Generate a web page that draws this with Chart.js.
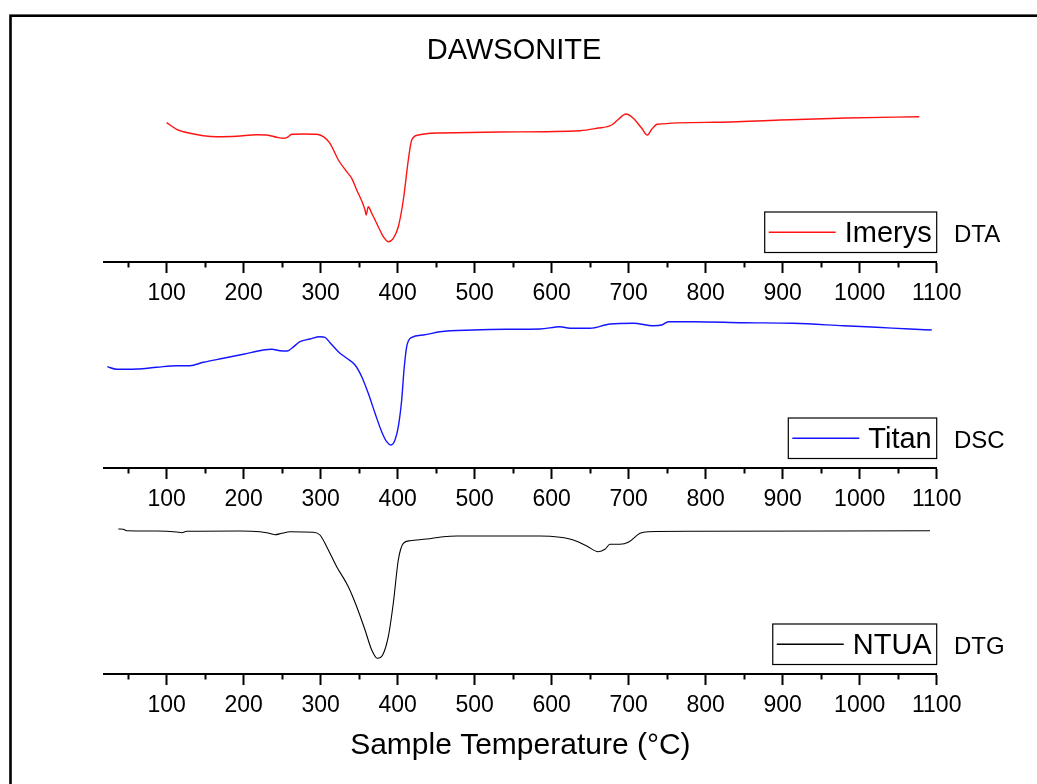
<!DOCTYPE html>
<html>
<head>
<meta charset="utf-8">
<script src="https://cdn.jsdelivr.net/npm/chart.js@4.4.1/dist/chart.umd.min.js"></script>
<style>
html,body{margin:0;padding:0;background:#fff;}
#wrap{position:relative;width:1037px;height:784px;overflow:hidden;background:#fff;}
#wrap canvas{position:absolute;left:0;top:0;}
</style>
</head>
<body>
<div id="wrap">
<canvas id="c1" width="1037" height="784"></canvas>
<canvas id="c2" width="1037" height="784"></canvas>
<canvas id="c3" width="1037" height="784"></canvas>
</div>
<script>
// ---- texts ----
const chartTitle = 'DAWSONITE';
const xAxisTitle = 'Sample Temperature (°C)';
const seriesNames = ['Imerys', 'Titan', 'NTUA'];
const methodNames = ['DTA', 'DSC', 'DTG'];

// ---- x axis ticks ----
const tickValues = [50,100,150,200,250,300,350,400,450,500,550,600,650,700,750,800,850,900,950,1000,1050,1100];
const tickLabels = ['','100','','200','','300','','400','','500','','600','','700','','800','','900','','1000','','1100'];

// ---- DTA (Imerys), arbitrary signal units ----
const dtaTemp = [100,113,130.3,147.6,165,191,217,230,243,251.5,256.6,262.4,277.4,294.8,303.4,312.1,323,333.8,340.3,346.8,357.6,359,361.8,366.3,374.8,381.3,387.8,394.3,400.8,407.3,413.8,418.2,426.8,442,455,532.6,636.8,658.5,678,686.6,696.6,706,716.9,724.2,729.9,737.2,809.9,896.6,983.1,1077.4];
const dtaSignal = [139.3,132.7,128.7,126.3,125.3,125.7,127.3,127,124.7,123.7,124.7,127.7,128,127.7,125.3,118.7,102,90.3,83.7,72,52,47,55.3,48.7,35.3,25.3,20.3,23.7,35.3,62,102,122,127,128.7,129,130,131.3,133.7,137,142.7,148,143.7,133.7,127,132.7,137.7,139.7,142,144,145.3];

// ---- DSC (Titan) ----
const dscTemp = [22.9,35.1,61.1,87,113,130.3,147.6,173.6,199.5,225.5,236.4,247.2,256.6,262.4,273.1,286.1,299.1,305.6,312.1,322.9,333.8,344.6,353.3,361.8,370.6,379.2,385.7,391.3,396.5,400.8,405.2,408.2,411.7,418.2,433.3,455,498.2,541.6,584.9,610.8,623.8,649.8,675.9,706,732,742.9,751.5,783.9,848.9,913.8,978.7,1022.1,1065.4,1093.6];
const dscSignal = [101.3,98.7,99,100.7,102.3,102.3,105.7,109.7,113.7,118,118.7,117.3,117,119.7,126.3,129,131.3,130.7,125.3,116.3,109.7,103,91.3,74.7,54.7,36.3,26.3,23,28,41.3,68,98,121.3,130.7,133,136.3,138,138.7,139,141.3,139.7,139.7,144,144.7,142.3,143,146.3,146.3,145.3,144.7,142.3,140.7,139,138];

// ---- DTG (NTUA) ----
const dtgTemp = [37.2,43.7,48.1,87,113,119.5,126,195.2,221.2,229.9,240.7,249.4,260.2,290.4,299.1,307.8,320.8,335.9,346.8,357.6,366.3,373.5,380.5,387.8,394.3,400.8,407.3,416,437.7,459.2,476.6,584.8,610.8,628.1,645.5,660.6,669.2,675.7,688.7,699.5,714.7,725.5,783.9,1091.3];
const dtgSignal = [145,144.7,143.3,143,142,141.3,142.7,143,142.3,141.3,139.3,140.7,142.3,141.7,139,127.3,107.3,87.3,67.3,44,24,15.7,19,37.3,70.7,114,130.7,133.3,135,137.3,138,138,136.7,134,128,122.3,124.7,129.7,129.7,131.7,140.7,142.3,142.7,143.3];

const FONT = '"Liberation Sans", Arial, sans-serif';

const decoPlugin = {
  id: 'panelDeco',
  afterDraw(chart, args, opts) {
    const ctx = chart.ctx;
    const ca = chart.chartArea;
    ctx.save();
    if (opts.frame) {
      ctx.strokeStyle = '#000';
      ctx.lineWidth = 2.6;
      ctx.strokeRect(10.5, 15.7, 1200, 1000);
      ctx.fillStyle = '#000';
      ctx.font = '29px ' + FONT;
      ctx.textAlign = 'center';
      ctx.textBaseline = 'alphabetic';
      ctx.fillText(opts.title, 514, 59);
    }
    // boxed legend
    const ds = chart.data.datasets[0];
    ctx.font = '29px ' + FONT;
    const tw = ctx.measureText(ds.label).width;
    const textRight = ca.right - 5;
    const textLeft = textRight - tw;
    const lineRight = textLeft - 9;
    const lineLeft = lineRight - 67;
    const boxLeft = lineLeft - 4;
    const boxTop = ca.bottom - 50;
    const boxBottom = ca.bottom - 9.5;
    const midY = (boxTop + boxBottom) / 2;
    ctx.strokeStyle = '#000';
    ctx.lineWidth = 1.2;
    ctx.strokeRect(boxLeft, boxTop, ca.right - boxLeft, boxBottom - boxTop);
    ctx.strokeStyle = ds.borderColor;
    ctx.lineWidth = 1.3;
    ctx.beginPath();
    ctx.moveTo(lineLeft, midY);
    ctx.lineTo(lineRight, midY);
    ctx.stroke();
    ctx.fillStyle = '#000';
    ctx.textAlign = 'left';
    ctx.textBaseline = 'alphabetic';
    ctx.fillText(ds.label, textLeft, ca.bottom - 20);
    ctx.font = '24px ' + FONT;
    ctx.fillText(opts.method, 954, ca.bottom - 20.5);
    ctx.restore();
  }
};

function makePanel(id, name, method, temps, signal, color, lw, top, bottom, axisH, withTitle, frame) {
  const pts = temps.map((t, i) => ({x: t, y: signal[i]}));
  const xScale = {
    type: 'linear',
    min: 18.6,
    max: 1100,
    afterBuildTicks: s => { s.ticks = tickValues.map(v => ({value: v})); },
    afterFit: s => { s.height = axisH; },
    border: {display: true, color: '#000', width: 2},
    grid: {
      display: true,
      drawOnChartArea: false,
      drawTicks: true,
      tickLength: 11,
      tickColor: '#000',
      tickWidth: 2,
      tickBorderDash: ctx => (ctx.tick && ctx.tick.value % 100 !== 0) ? [4.5, 40] : []
    },
    ticks: {
      autoSkip: false,
      maxRotation: 0,
      minRotation: 0,
      padding: 7,
      color: '#000',
      font: {family: FONT, size: 23},
      callback: (v) => tickLabels[tickValues.indexOf(v)] ?? ''
    },
    title: {
      display: withTitle,
      text: xAxisTitle,
      color: '#000',
      font: {family: FONT, size: 30},
      padding: {top: 0, bottom: 10}
    }
  };
  return new Chart(document.getElementById(id), {
    type: 'line',
    data: {
      datasets: [{
        label: name,
        data: pts,
        borderColor: color,
        borderWidth: lw,
        pointRadius: 0,
        fill: false,
        cubicInterpolationMode: 'monotone'
      }]
    },
    options: {
      responsive: false,
      animation: false,
      events: [],
      layout: {padding: {left: 104, right: 1037 - 936.7, top: top, bottom: 784 - bottom - axisH}},
      scales: {
        x: xScale,
        y: {display: false, min: 0, max: bottom - top}
      },
      plugins: {
        legend: {display: false},
        tooltip: {enabled: false},
        title: {display: false},
        panelDeco: {method: method, frame: frame, title: chartTitle}
      }
    },
    plugins: [decoPlugin]
  });
}

makePanel('c1', seriesNames[0], methodNames[0], dtaTemp, dtaSignal, 'rgb(255,20,20)', 1.4, 100, 262, 60, false, true);
makePanel('c2', seriesNames[1], methodNames[1], dscTemp, dscSignal, 'rgb(20,20,255)', 1.4, 300, 468, 60, false, false);
makePanel('c3', seriesNames[2], methodNames[2], dtgTemp, dtgSignal, 'rgb(0,0,0)', 1.1, 510, 674, 100, true, false);
</script>
</body>
</html>
